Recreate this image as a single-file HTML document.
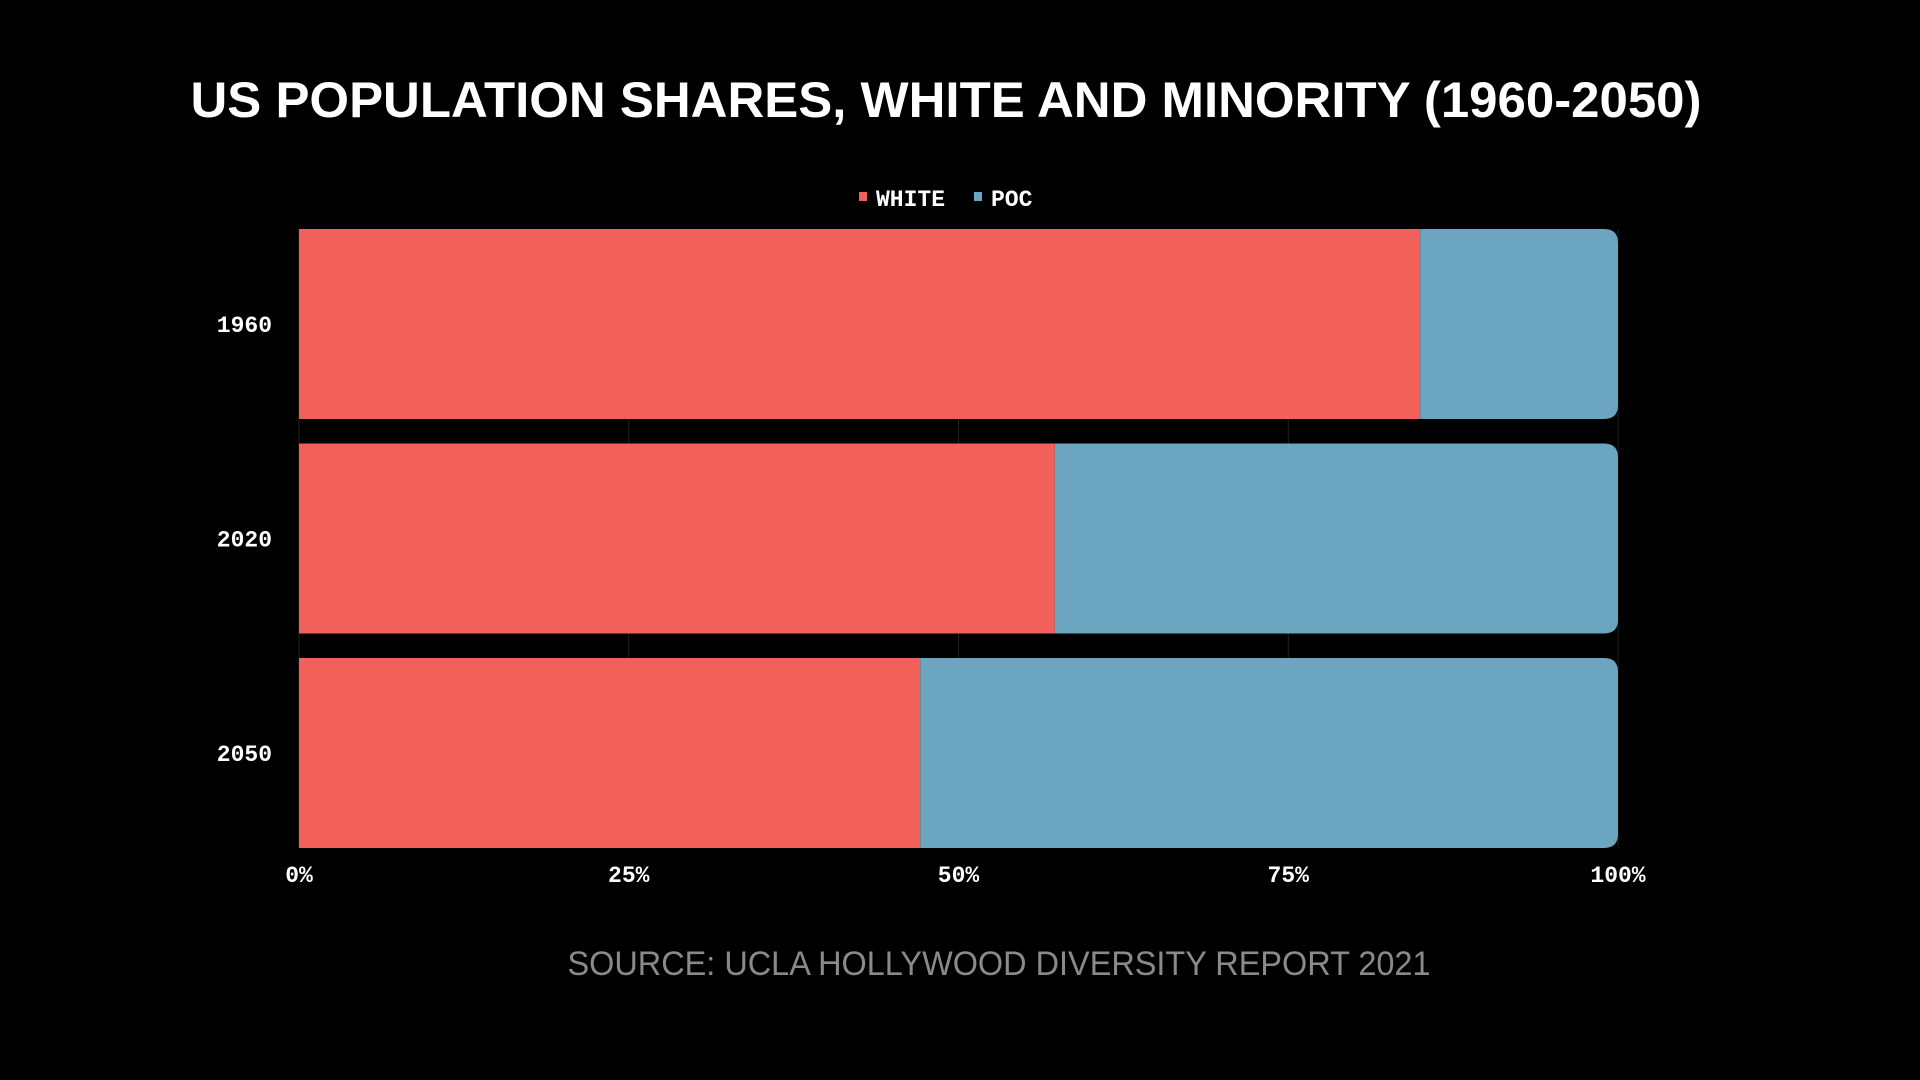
<!DOCTYPE html>
<html><head><meta charset="utf-8"><style>
html,body{margin:0;padding:0;background:#000;width:1920px;height:1080px;overflow:hidden}
</style></head><body>
<svg id="chart" width="1920" height="1080" xmlns="http://www.w3.org/2000/svg">
<rect width="1920" height="1080" fill="#000"/>
<text x="946" y="117" text-anchor="middle" fill="#fff" font-family="Liberation Sans, sans-serif" font-weight="bold" font-size="50" textLength="1511" lengthAdjust="spacingAndGlyphs">US POPULATION SHARES, WHITE AND MINORITY (1960-2050)</text>
<g>
<rect x="859" y="192" width="8" height="9" fill="#f2605a"/>
<text x="876" y="206" fill="#fff" font-family="Liberation Mono, monospace" font-weight="bold" font-size="23">WHITE</text>
<rect x="974" y="192" width="8" height="9" fill="#6ca5c0"/>
<text x="991" y="206" fill="#fff" font-family="Liberation Mono, monospace" font-weight="bold" font-size="23">POC</text>
</g>
<g id="grid"></g>
<g id="bars"></g>
<g id="axes"></g>
<text x="999" y="975" text-anchor="middle" fill="#8a8a8a" font-family="Liberation Sans, sans-serif" font-size="34" textLength="863" lengthAdjust="spacingAndGlyphs">SOURCE: UCLA HOLLYWOOD DIVERSITY REPORT 2021</text>
</svg>
<script>
const categories = ["1960", "2020", "2050"];
const whiteShare = [85, 57.3, 47.1];
const pocShare = [15, 42.7, 52.9];
const tickValues = [0, 25, 50, 75, 100];
const tickLabels = ["0%", "25%", "50%", "75%", "100%"];

const NS = "http://www.w3.org/2000/svg";
const x0 = 299, x1 = 1618, yTop = 229, step = 214.5, bh = 190, r = 14;
function xScale(v){ return x0 + (x1 - x0) * v / 100; }
function yBand(i){ return yTop + i * step; }
function mk(tag, attrs, parent){ const e=document.createElementNS(NS,tag); for(const k in attrs) e.setAttribute(k,attrs[k]); parent.appendChild(e); return e; }
const grid=document.getElementById('grid'), bars=document.getElementById('bars'), axes=document.getElementById('axes');
tickValues.forEach((t,i)=>{
  const l = mk('line',{x1:xScale(t),x2:xScale(t),y1:yTop,y2:yBand(categories.length-1)+bh,stroke:'#222','stroke-width':1},grid);
  
  
  const tx = mk('text',{x:xScale(t),y:882,'text-anchor':'middle',fill:'#fff','font-family':'Liberation Mono, monospace','font-weight':'bold','font-size':23},axes);
  tx.textContent = tickLabels[i];
  
  
});
categories.forEach((c,i)=>{
  const y=yBand(i);
  const w = mk('rect',{x:xScale(0),y:y,width:xScale(whiteShare[i])-xScale(0),height:bh,fill:'#f2605a'},bars);
  
  
  const xs=xScale(whiteShare[i]), xe=xScale(whiteShare[i]+pocShare[i]);
  const d=`M${xs},${y} H${xe-r} Q${xe},${y} ${xe},${y+r} V${y+bh-r} Q${xe},${y+bh} ${xe-r},${y+bh} H${xs} Z`;
  const p = mk('path',{d:d,fill:'#6ca5c0'},bars);
  
  
  const t = mk('text',{x:272,y:y+bh/2+8,'text-anchor':'end',fill:'#fff','font-family':'Liberation Mono, monospace','font-weight':'bold','font-size':23},axes);
  t.textContent=c;
  
  
});
</script>
</body></html>
